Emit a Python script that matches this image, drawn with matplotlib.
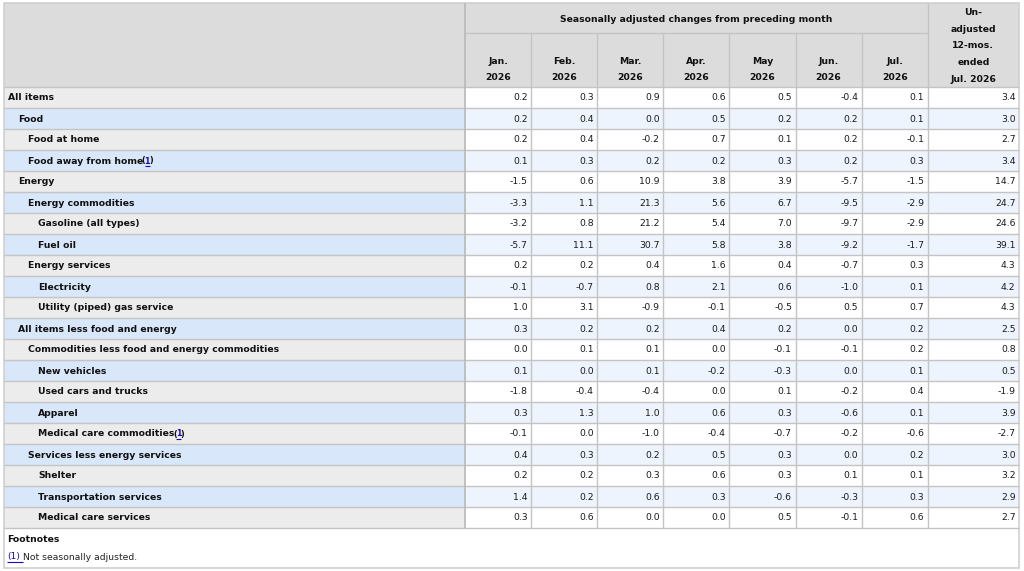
import matplotlib
matplotlib.use("Agg")
import matplotlib.pyplot as plt
from matplotlib.patches import Rectangle

plt.rcParams['font.family'] = ['DejaVu Sans']

# ---------------- data ----------------
months = ["Jan.\n2026", "Feb.\n2026", "Mar.\n2026", "Apr.\n2026",
          "May\n2026", "Jun.\n2026", "Jul.\n2026"]
last_header = "Un-\nadjusted\n12-mos.\nended\nJul. 2026"
group_header = "Seasonally adjusted changes from preceding month"

items = ["All items", "Food", "Food at home", "Food away from home",
         "Energy", "Energy commodities", "Gasoline (all types)", "Fuel oil",
         "Energy services", "Electricity", "Utility (piped) gas service",
         "All items less food and energy",
         "Commodities less food and energy commodities", "New vehicles",
         "Used cars and trucks", "Apparel", "Medical care commodities",
         "Services less energy services", "Shelter",
         "Transportation services", "Medical care services"]
levels = [0, 1, 2, 2, 1, 2, 3, 3, 2, 3, 3, 1, 2, 3, 3, 3, 3, 2, 3, 3, 3]
footnoted = [False, False, False, True, False, False, False, False, False,
             False, False, False, False, False, False, False, True, False,
             False, False, False]

values = [
    [0.2, 0.3, 0.9, 0.6, 0.5, -0.4, 0.1, 3.4],
    [0.2, 0.4, 0.0, 0.5, 0.2, 0.2, 0.1, 3.0],
    [0.2, 0.4, -0.2, 0.7, 0.1, 0.2, -0.1, 2.7],
    [0.1, 0.3, 0.2, 0.2, 0.3, 0.2, 0.3, 3.4],
    [-1.5, 0.6, 10.9, 3.8, 3.9, -5.7, -1.5, 14.7],
    [-3.3, 1.1, 21.3, 5.6, 6.7, -9.5, -2.9, 24.7],
    [-3.2, 0.8, 21.2, 5.4, 7.0, -9.7, -2.9, 24.6],
    [-5.7, 11.1, 30.7, 5.8, 3.8, -9.2, -1.7, 39.1],
    [0.2, 0.2, 0.4, 1.6, 0.4, -0.7, 0.3, 4.3],
    [-0.1, -0.7, 0.8, 2.1, 0.6, -1.0, 0.1, 4.2],
    [1.0, 3.1, -0.9, -0.1, -0.5, 0.5, 0.7, 4.3],
    [0.3, 0.2, 0.2, 0.4, 0.2, 0.0, 0.2, 2.5],
    [0.0, 0.1, 0.1, 0.0, -0.1, -0.1, 0.2, 0.8],
    [0.1, 0.0, 0.1, -0.2, -0.3, 0.0, 0.1, 0.5],
    [-1.8, -0.4, -0.4, 0.0, 0.1, -0.2, 0.4, -1.9],
    [0.3, 1.3, 1.0, 0.6, 0.3, -0.6, 0.1, 3.9],
    [-0.1, 0.0, -1.0, -0.4, -0.7, -0.2, -0.6, -2.7],
    [0.4, 0.3, 0.2, 0.5, 0.3, 0.0, 0.2, 3.0],
    [0.2, 0.2, 0.3, 0.6, 0.3, 0.1, 0.1, 3.2],
    [1.4, 0.2, 0.6, 0.3, -0.6, -0.3, 0.3, 2.9],
    [0.3, 0.6, 0.0, 0.0, 0.5, -0.1, 0.6, 2.7],
]
footnote_title = "Footnotes"
footnote_text = "Not seasonally adjusted."

# ---------------- layout ----------------
W, H = 1024, 571
fig = plt.figure(figsize=(W / 100, H / 100), dpi=100)
ax = fig.add_axes([0, 0, 1, 1])
ax.set_xlim(0, W)
ax.set_ylim(H, 0)
ax.axis("off")

left, right = 4, 1019
label_right = 465
month_w = 66.1
col_edges = [label_right + i * month_w for i in range(8)] + [right]
top = 3
hdr1_bottom = 33
hdr_bottom = 87
row_h = 21.0
table_bottom = hdr_bottom + row_h * len(items)
outer_bottom = 568

HDR_BG = "#dcdcdc"
GRAY_BG = "#ececec"
BLUE_BG = "#d9e7fb"
BLUE_CELL = "#eef4fd"
LINE = "#c4c4c4"
LINK = "#1a0dab"
TXT = "#111111"
FS = 6.7

def rect(x0, y0, x1, y1, fc, ec="none", lw=0):
    ax.add_patch(Rectangle((x0, y0), x1 - x0, y1 - y0, facecolor=fc,
                           edgecolor=ec, linewidth=lw))

def hline(x0, x1, y, c=LINE, lw=1.0):
    ax.plot([x0, x1], [y, y], color=c, lw=lw, solid_capstyle="butt")

def vline(x, y0, y1, c=LINE, lw=1.0):
    ax.plot([x, x], [y0, y1], color=c, lw=lw, solid_capstyle="butt")

# header background
rect(left, top, right, hdr_bottom, HDR_BG)

fig.canvas.draw()
renderer = fig.canvas.get_renderer()

# body rows
for i, name in enumerate(items):
    y0 = hdr_bottom + i * row_h
    y1 = y0 + row_h
    blue = (i % 2 == 1)
    rect(left, y0, label_right, y1, BLUE_BG if blue else GRAY_BG)
    rect(label_right, y0, right, y1, BLUE_CELL if blue else "white")
    yc = y0 + row_h / 2 + 0.5
    xt = 8 + levels[i] * 10
    t = ax.text(xt, yc, name, fontsize=FS, fontweight="bold", ha="left",
                va="center", color=TXT)
    if footnoted[i]:
        bb = t.get_window_extent(renderer)
        t2 = ax.text(bb.x1 - 1.5, yc, "(", fontsize=FS - 0.9,
                     fontweight="bold", ha="left", va="center", color=TXT)
        bb2 = t2.get_window_extent(renderer)
        t3 = ax.text(bb2.x1 - 0.8, yc, "1", fontsize=FS - 0.9,
                     fontweight="bold", ha="left", va="center", color=LINK)
        bb3 = t3.get_window_extent(renderer)
        hline(bb3.x0 + 0.5, bb3.x1 - 0.5, yc + 4.5, c=LINK, lw=0.8)
        ax.text(bb3.x1 - 0.8, yc, ")", fontsize=FS - 0.9, fontweight="bold",
                ha="left", va="center", color=TXT)
    for j, v in enumerate(values[i]):
        ax.text(col_edges[j + 1] - 3.5, yc, f"{v:.1f}", fontsize=FS,
                ha="right", va="center", color="#1a1a1a")
    hline(left, right, y1)

# header texts
ax.text((col_edges[0] + col_edges[7]) / 2, (top + hdr1_bottom) / 2 + 1.5,
        group_header, fontsize=FS, fontweight="bold", ha="center",
        va="center", color=TXT)
for j, m in enumerate(months):
    ax.text((col_edges[j] + col_edges[j + 1]) / 2, 69.5, m, fontsize=FS,
            fontweight="bold", ha="center", va="center", color=TXT,
            linespacing=1.95)
ax.text((col_edges[7] + col_edges[8]) / 2, 46, last_header, fontsize=FS,
        fontweight="bold", ha="center", va="center", color=TXT,
        linespacing=2.1)

# grid lines
hline(col_edges[0], col_edges[7], hdr1_bottom)
hline(left, right, hdr_bottom)
for j in range(1, 7):
    vline(col_edges[j], hdr1_bottom, table_bottom)
vline(col_edges[0], top, table_bottom, c="#b8b8b8", lw=1.2)
vline(col_edges[7], top, table_bottom)

# footnotes
ax.text(7, 540, footnote_title, fontsize=FS, fontweight="bold", ha="left",
        va="center", color=TXT)
f1 = ax.text(7, 557, "(1)", fontsize=FS, ha="left", va="center", color=LINK)
fb = f1.get_window_extent(renderer)
hline(7, fb.x1 + 3, 562, c=LINK, lw=0.8)
ax.text(fb.x1 + 3, 557, footnote_text, fontsize=FS, ha="left", va="center",
        color="#222222")

# outer border
ax.add_patch(Rectangle((left, top), right - left, outer_bottom - top,
                       facecolor="none", edgecolor="#cfcfcf", linewidth=1.2))

fig.savefig("out.png", dpi=100)
